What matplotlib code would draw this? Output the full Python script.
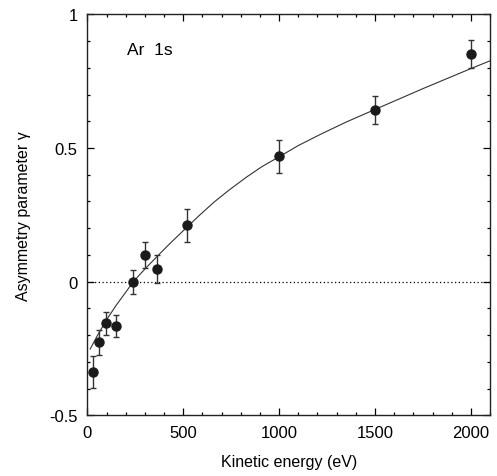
import matplotlib
matplotlib.use("Agg")
import matplotlib.pyplot as plt
from matplotlib.ticker import MultipleLocator, FuncFormatter

plt.rcParams['font.family'] = ['Liberation Sans', 'DejaVu Sans']

# measured asymmetry parameter, Ar 1s
energie = [28, 59, 99, 149, 240, 299, 365, 521, 1000, 1500, 2000]
gamma = [-0.338, -0.227, -0.156, -0.166, 0.0, 0.10, 0.047, 0.21, 0.469, 0.642, 0.853]
erreur = [0.06, 0.047, 0.044, 0.042, 0.045, 0.05, 0.054, 0.061, 0.062, 0.054, 0.052]

# theoretical curve
energie_th = [15, 50, 100, 150, 200, 240, 300, 365, 430, 520, 580, 660, 740,
              830, 910, 1000, 1100, 1210, 1350, 1500, 1750, 2000, 2100]
gamma_th = [-0.252, -0.205, -0.143, -0.089, -0.040, 0.0, 0.047, 0.095, 0.142,
            0.204, 0.245, 0.297, 0.343, 0.391, 0.430, 0.467, 0.509, 0.549,
            0.597, 0.644, 0.722, 0.797, 0.826]

fig = plt.figure(figsize=(4.97, 4.77), dpi=100)
ax = fig.add_axes([0.1757, 0.1273, 0.8103, 0.8406])

ax.axhline(0, color="black", linestyle=(0, (1, 2)), linewidth=0.9)
ax.plot(energie_th, gamma_th, color="#333333", linewidth=0.8)
ax.errorbar(energie, gamma, yerr=erreur, fmt="o", color="#1a1a1a",
            ecolor="#333333", elinewidth=1.0, capsize=2.5, capthick=1.0,
            markersize=6.5)

ax.text(207, 0.851, "Ar  1s", fontsize=12.5)

ax.set_xlim(0, 2100)
ax.set_ylim(-0.5, 1)
ax.xaxis.set_major_locator(MultipleLocator(500))
ax.xaxis.set_minor_locator(MultipleLocator(100))
ax.yaxis.set_major_locator(MultipleLocator(0.5))
ax.yaxis.set_minor_locator(MultipleLocator(0.1))
ax.yaxis.set_major_formatter(FuncFormatter(lambda v, p: "%g" % v))

ax.tick_params(which="both", direction="in", top=True, right=True,
               labelsize=12, width=0.9)
ax.tick_params(which="major", length=5)
ax.tick_params(which="minor", length=2.5)
ax.tick_params(axis="y", pad=7)
ax.tick_params(axis="x", pad=7)
for s in ax.spines.values():
    s.set_linewidth(1.0)
    s.set_color("#222222")

ax.set_xlabel("Kinetic energy (eV)", fontsize=11.5, labelpad=10)
ax.set_ylabel("Asymmetry parameter γ", fontsize=11.5, labelpad=13)

fig.savefig("out.png", dpi=100)
